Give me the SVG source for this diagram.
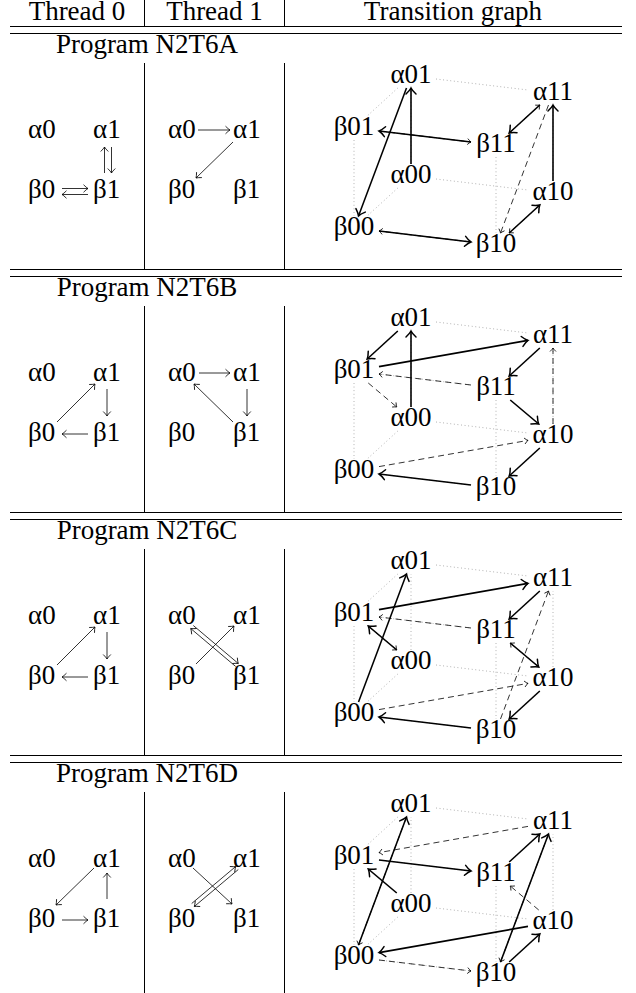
<svg xmlns="http://www.w3.org/2000/svg" width="636" height="993" viewBox="0 0 636 993">
<style>
.t{font-family:"Liberation Serif","Times New Roman",serif;font-size:27px;fill:#000}
.c{text-anchor:middle}
.rule{stroke:#000;stroke-width:1;fill:none}
.dot{stroke:#a0a0a0;stroke-width:0.9;stroke-dasharray:0.9 2.7;fill:none}
.s{stroke:#000;stroke-width:1.6;fill:none;marker-end:url(#hs)}
.d{stroke:#000;stroke-width:0.8;stroke-dasharray:6 4;fill:none;marker-end:url(#hd)}
.th{stroke:#000;stroke-width:0.8;fill:none;marker-end:url(#ht)}
</style>
<defs>
<marker id="hs" markerUnits="userSpaceOnUse" viewBox="-8 -6 10 12" markerWidth="10" markerHeight="12" refX="0" refY="0" orient="auto" overflow="visible">
<path d="M-6,-5 Q-2.5,-1.2 0,0 Q-2.5,1.2 -6,5" fill="none" stroke="#000" stroke-width="1.5" stroke-linecap="round"/>
</marker>
<marker id="hd" markerUnits="userSpaceOnUse" viewBox="-5 -4 6 8" markerWidth="6" markerHeight="8" refX="0" refY="0" orient="auto" overflow="visible">
<path d="M-3.5,-3 Q-1.3,-0.7 0,0 Q-1.3,0.7 -3.5,3" fill="none" stroke="#000" stroke-width="0.8"/>
</marker>
<marker id="ht" markerUnits="userSpaceOnUse" viewBox="-6 -5 7 10" markerWidth="7" markerHeight="10" refX="0" refY="0" orient="auto" overflow="visible">
<path d="M-4.5,-3.8 Q-1.6,-0.9 0,0 Q-1.6,0.9 -4.5,3.8" fill="none" stroke="#000" stroke-width="0.8"/>
</marker>
<g id="cube">
<path class="dot" d="M436,79 L528,90 M397.8,88 L367.2,116 M379,131 L471,142 M539.8,105 L509.2,133 M436,179 L528,190 M397.8,188 L367.2,216 M379,231 L471,242 M539.8,205 L509.2,233 M411,164 L411,88 M553,181 L553,105 M354,140 L354,216 M496,157 L496,233"/>
</g>
</defs>
<rect width="636" height="993" fill="#fff"/>

<g id="header">
<text class="t c" x="77" y="20">Thread 0</text>
<text class="t c" x="214.5" y="20">Thread 1</text>
<text class="t c" x="453" y="20">Transition graph</text>
<path class="rule" d="M144.5,0 V26.5 M284.5,0 V26.5 M10,26.5 H622 M10,33.5 H622"/>
</g>

<!-- Section A -->
<g id="secA">
<text class="t c" x="147" y="53">Program N2T6A</text>
<path class="rule" d="M144.5,63 V269.5 M284.5,63 V269.5 M10,269.5 H622 M10,276.5 H622"/>
<g id="A-t0-a0"><text class="t" x="28" y="138">α0</text></g>
<g id="A-t0-a1"><text class="t" x="93" y="138">α1</text></g>
<g id="A-t0-b0"><text class="t" x="28" y="198">β0</text></g>
<g id="A-t0-b1"><text class="t" x="93" y="198">β1</text></g>
<g id="A-t1-a0"><text class="t" x="168" y="138">α0</text></g>
<g id="A-t1-a1"><text class="t" x="233" y="138">α1</text></g>
<g id="A-t1-b0"><text class="t" x="168" y="198">β0</text></g>
<g id="A-t1-b1"><text class="t" x="233" y="198">β1</text></g>
<use href="#cube"/>
<g id="A-a01"><text class="t c" x="411" y="83">α01</text></g>
<g id="A-a11"><text class="t c" x="553" y="100">α11</text></g>
<g id="A-b01"><text class="t c" x="354" y="135">β01</text></g>
<g id="A-b11"><text class="t c" x="496" y="152">β11</text></g>
<g id="A-a00"><text class="t c" x="411" y="183">α00</text></g>
<g id="A-a10"><text class="t c" x="553" y="200">α10</text></g>
<g id="A-b00"><text class="t c" x="354" y="235">β00</text></g>
<g id="A-b10"><text class="t c" x="496" y="252">β10</text></g>
<g id="A-edges">
<path class="th" d="M104.5,173 V147"/>
<path class="th" d="M111.5,147 V173"/>
<path class="th" d="M62,188.5 H88"/>
<path class="th" d="M88,194.5 H62"/>
<path class="th" d="M198,130 H230"/>
<path class="th" d="M233,142 L196,178"/>
<path class="d" d="M548.5,105 L500.5,233"/>
<path class="d" d="M539.8,205 L509.2,233"/>
<path class="d" d="M509.2,133 L539.8,105"/>
<path class="d" d="M379,131 L471,142"/>
<path class="d" d="M471,242 L379,231"/>
<path class="s" d="M411,164 L411,88"/>
<path class="s" d="M553,181 L553,105"/>
<path class="s" d="M406.5,88 L358.5,216"/>
<path class="s" d="M539.8,105 L509.2,133"/>
<path class="s" d="M509.2,233 L539.8,205"/>
<path class="s" d="M379,231 L471,242"/>
<path class="s" d="M471,142 L379,131"/>
</g>
</g>

<!-- Section B -->
<g id="secB" transform="translate(0,243)">
<text class="t c" x="147" y="53">Program N2T6B</text>
<path class="rule" d="M144.5,63 V269.5 M284.5,63 V269.5 M10,269.5 H622 M10,276.5 H622"/>
<g id="B-t0-a0"><text class="t" x="28" y="138">α0</text></g>
<g id="B-t0-a1"><text class="t" x="93" y="138">α1</text></g>
<g id="B-t0-b0"><text class="t" x="28" y="198">β0</text></g>
<g id="B-t0-b1"><text class="t" x="93" y="198">β1</text></g>
<g id="B-t1-a0"><text class="t" x="168" y="138">α0</text></g>
<g id="B-t1-a1"><text class="t" x="233" y="138">α1</text></g>
<g id="B-t1-b0"><text class="t" x="168" y="198">β0</text></g>
<g id="B-t1-b1"><text class="t" x="233" y="198">β1</text></g>
<use href="#cube"/>
<g id="B-a01"><text class="t c" x="411" y="83">α01</text></g>
<g id="B-a11"><text class="t c" x="553" y="100">α11</text></g>
<g id="B-b01"><text class="t c" x="354" y="135">β01</text></g>
<g id="B-b11"><text class="t c" x="496" y="152">β11</text></g>
<g id="B-a00"><text class="t c" x="411" y="183">α00</text></g>
<g id="B-a10"><text class="t c" x="553" y="200">α10</text></g>
<g id="B-b00"><text class="t c" x="354" y="235">β00</text></g>
<g id="B-b10"><text class="t c" x="496" y="252">β10</text></g>
<g id="B-edges">
<path class="th" d="M57,179 L95,141"/>
<path class="th" d="M107,146 V173"/>
<path class="th" d="M88,191 H62"/>
<path class="th" d="M199,130 H230"/>
<path class="th" d="M247,146 V173"/>
<path class="th" d="M233,179 L194,141"/>
<path class="d" d="M471,142 L379,131"/>
<path class="d" d="M368.25,140 L396.75,164"/>
<path class="d" d="M553,181 L553,105"/>
<path class="d" d="M379,223.6 L528,197.4"/>
<path class="s" d="M411,164 L411,88"/>
<path class="s" d="M397.8,88 L367.2,116"/>
<path class="s" d="M379,123.6 L528,97.4"/>
<path class="s" d="M539.8,105 L509.2,133"/>
<path class="s" d="M510.25,157 L538.75,181"/>
<path class="s" d="M539.8,205 L509.2,233"/>
<path class="s" d="M471,242 L379,231"/>
</g>
</g>

<!-- Section C -->
<g id="secC" transform="translate(0,486)">
<text class="t c" x="147" y="53">Program N2T6C</text>
<path class="rule" d="M144.5,63 V269.5 M284.5,63 V269.5 M10,269.5 H622 M10,276.5 H622"/>
<g id="C-t0-a0"><text class="t" x="28" y="138">α0</text></g>
<g id="C-t0-a1"><text class="t" x="93" y="138">α1</text></g>
<g id="C-t0-b0"><text class="t" x="28" y="198">β0</text></g>
<g id="C-t0-b1"><text class="t" x="93" y="198">β1</text></g>
<g id="C-t1-a0"><text class="t" x="168" y="138">α0</text></g>
<g id="C-t1-a1"><text class="t" x="233" y="138">α1</text></g>
<g id="C-t1-b0"><text class="t" x="168" y="198">β0</text></g>
<g id="C-t1-b1"><text class="t" x="233" y="198">β1</text></g>
<use href="#cube"/>
<g id="C-a01"><text class="t c" x="411" y="83">α01</text></g>
<g id="C-a11"><text class="t c" x="553" y="100">α11</text></g>
<g id="C-b01"><text class="t c" x="354" y="135">β01</text></g>
<g id="C-b11"><text class="t c" x="496" y="152">β11</text></g>
<g id="C-a00"><text class="t c" x="411" y="183">α00</text></g>
<g id="C-a10"><text class="t c" x="553" y="200">α10</text></g>
<g id="C-b00"><text class="t c" x="354" y="235">β00</text></g>
<g id="C-b10"><text class="t c" x="496" y="252">β10</text></g>
<g id="C-edges">
<path class="th" d="M57,179 L95,141"/>
<path class="th" d="M107,146 V173"/>
<path class="th" d="M88,191 H62"/>
<path class="th" d="M193.3,139.5 L238.3,177.5"/>
<path class="th" d="M235.7,180.5 L190.7,142.5"/>
<path class="th" d="M196,178 L234,140"/>
<path class="d" d="M471,142 L379,131"/>
<path class="d" d="M368.25,140 L396.75,164"/>
<path class="d" d="M538.75,181 L510.25,157"/>
<path class="d" d="M500.5,233 L548.5,105"/>
<path class="d" d="M379,223.6 L528,197.4"/>
<path class="s" d="M358.5,216 L406.5,88"/>
<path class="s" d="M379,123.6 L528,97.4"/>
<path class="s" d="M539.8,105 L509.2,133"/>
<path class="s" d="M396.75,164 L368.25,140"/>
<path class="s" d="M510.25,157 L538.75,181"/>
<path class="s" d="M539.8,205 L509.2,233"/>
<path class="s" d="M471,242 L379,231"/>
</g>
</g>

<!-- Section D -->
<g id="secD" transform="translate(0,729)">
<text class="t c" x="147" y="53">Program N2T6D</text>
<path class="rule" d="M144.5,63 V264 M284.5,63 V264"/>
<g id="D-t0-a0"><text class="t" x="28" y="138">α0</text></g>
<g id="D-t0-a1"><text class="t" x="93" y="138">α1</text></g>
<g id="D-t0-b0"><text class="t" x="28" y="198">β0</text></g>
<g id="D-t0-b1"><text class="t" x="93" y="198">β1</text></g>
<g id="D-t1-a0"><text class="t" x="168" y="138">α0</text></g>
<g id="D-t1-a1"><text class="t" x="233" y="138">α1</text></g>
<g id="D-t1-b0"><text class="t" x="168" y="198">β0</text></g>
<g id="D-t1-b1"><text class="t" x="233" y="198">β1</text></g>
<use href="#cube"/>
<g id="D-a01"><text class="t c" x="411" y="83">α01</text></g>
<g id="D-a11"><text class="t c" x="553" y="100">α11</text></g>
<g id="D-b01"><text class="t c" x="354" y="135">β01</text></g>
<g id="D-b11"><text class="t c" x="496" y="152">β11</text></g>
<g id="D-a00"><text class="t c" x="411" y="183">α00</text></g>
<g id="D-a10"><text class="t c" x="553" y="200">α10</text></g>
<g id="D-b00"><text class="t c" x="354" y="235">β00</text></g>
<g id="D-b10"><text class="t c" x="496" y="252">β10</text></g>
<g id="D-edges">
<path class="th" d="M94,139 L56,176"/>
<path class="th" d="M62,191 H88"/>
<path class="th" d="M107,170 V144"/>
<path class="th" d="M193,139 L232,175"/>
<path class="th" d="M191.7,174.5 L235.7,137.5"/>
<path class="th" d="M238.3,140.5 L194.3,177.5"/>
<path class="d" d="M406.5,88 L358.5,216"/>
<path class="d" d="M528,97.4 L379,123.6"/>
<path class="d" d="M538.75,181 L510.25,157"/>
<path class="d" d="M379,231 L471,242"/>
<path class="d" d="M548.5,105 L500.5,233"/>
<path class="s" d="M358.5,216 L406.5,88"/>
<path class="s" d="M379,131 L471,142"/>
<path class="s" d="M396.75,164 L368.25,140"/>
<path class="s" d="M509.2,133 L539.8,105"/>
<path class="s" d="M500.5,233 L548.5,105"/>
<path class="s" d="M509.2,233 L539.8,205"/>
<path class="s" d="M528,197.4 L379,223.6"/>
</g>
</g>
</svg>
